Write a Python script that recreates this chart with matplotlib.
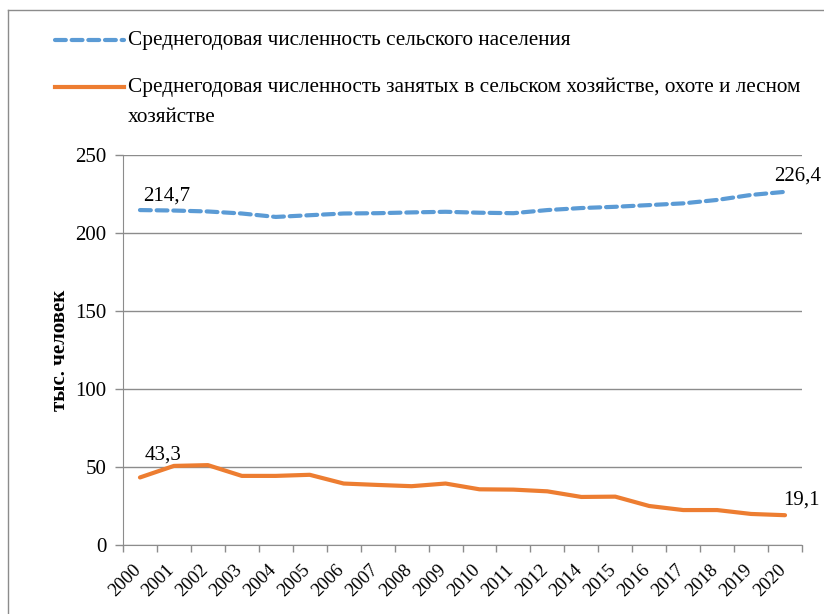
import matplotlib.pyplot as plt
from matplotlib.lines import Line2D
from matplotlib.transforms import ScaledTranslation
import numpy as np

plt.rcParams["font.family"] = ["Liberation Serif", "DejaVu Serif"]

years = ["2000", "2001", "2002", "2003", "2004", "2005", "2006", "2007", "2008", "2009",
         "2010", "2011", "2012", "2014", "2015", "2016", "2017", "2018", "2019", "2020"]
rural_pop = [214.7, 214.4, 213.8, 212.5, 210.3, 211.4, 212.5, 212.7, 213.2, 213.6,
             213.0, 212.7, 214.7, 216.0, 216.8, 217.9, 219.0, 221.2, 224.4, 226.4]
employed = [43.3, 50.7, 51.2, 44.3, 44.3, 45.0, 39.4, 38.5, 37.7, 39.4,
            35.7, 35.5, 34.4, 30.8, 31.0, 25.0, 22.4, 22.4, 19.9, 19.1]
label_pop = "Среднегодовая численность сельского населения"
label_emp = "Среднегодовая численность занятых в сельском хозяйстве, охоте и лесном\nхозяйстве"

blue = "#5B9BD5"
orange = "#ED7D31"
grid_c = "#8C8C8C"

W, H = 824, 614
fig = plt.figure(figsize=(W / 100, H / 100), dpi=100)
ax = fig.add_axes([123 / W, 1 - 545 / H, (802 - 123) / W, (545 - 155) / H])

x = np.arange(len(years))
ax.plot(x, rural_pop, color=blue, lw=3, ls=(0, (2.6, 1.4)), dash_capstyle="round")
ax.plot(x, employed, color=orange, lw=3, solid_capstyle="round")

ax.set_xlim(-0.5, len(years) - 0.5)
ax.set_ylim(0, 250)
ax.set_yticks(range(0, 251, 50))
ax.yaxis.grid(True, color=grid_c, lw=1)
ax.set_axisbelow(True)

ax.set_xticks(np.arange(-0.5, len(years)), minor=False)
ax.set_xticklabels([])
ax.set_xticks(x, minor=True)
ax.set_xticklabels(years, minor=True, rotation=45, ha="right", fontsize=13.5)
ax.tick_params(axis="x", which="minor", length=0, pad=12)
ax.tick_params(axis="x", which="major", length=5, color=grid_c, width=1)
ax.tick_params(axis="y", length=6, color=grid_c, width=1, labelsize=15, pad=6)
shift = ScaledTranslation(4 / 100, 0, fig.dpi_scale_trans)
for lbl in ax.get_xticklabels(minor=True):
    lbl.set_transform(lbl.get_transform() + shift)

for side in ["top", "right"]:
    ax.spines[side].set_visible(False)
for side in ["left", "bottom"]:
    ax.spines[side].set_color(grid_c)

ax.set_ylabel("тыс. человек", fontsize=15, fontweight="bold", labelpad=4)

ax.annotate("214,7", (x[0], rural_pop[0]), xytext=(2, 7), textcoords="offset points", fontsize=15)
ax.annotate("226,4", (x[-1], rural_pop[-1]), xytext=(-8, 8), textcoords="offset points", fontsize=15)
ax.annotate("43,3", (x[0], employed[0]), xytext=(3, 13), textcoords="offset points", fontsize=15)
ax.annotate("19,1", (x[-1], employed[-1]), xytext=(-1, 8), textcoords="offset points", fontsize=15)

# legend drawn at the top of the figure
fig.add_artist(Line2D([55 / W, 124 / W], [1 - 40 / H, 1 - 40 / H], color=blue, lw=3,
                      ls=(0, (2.6, 1.4)), dash_capstyle="round"))
fig.add_artist(Line2D([55 / W, 124 / W], [1 - 87 / H, 1 - 87 / H], color=orange, lw=3))
fig.text(128 / W, 1 - 40 / H, label_pop, fontsize=15.3, va="center")
fig.text(128 / W, 1 - 87 / H, label_emp.split("\n")[0], fontsize=15.3, va="center")
fig.text(128 / W, 1 - 117 / H, label_emp.split("\n")[1], fontsize=15.3, va="center")

# chart area border
fig.add_artist(Line2D([8 / W, 8 / W], [0, 1 - 10 / H], color=grid_c, lw=1))
fig.add_artist(Line2D([8 / W, 1], [1 - 10 / H, 1 - 10 / H], color=grid_c, lw=1))

fig.savefig("out.png", dpi=100)
